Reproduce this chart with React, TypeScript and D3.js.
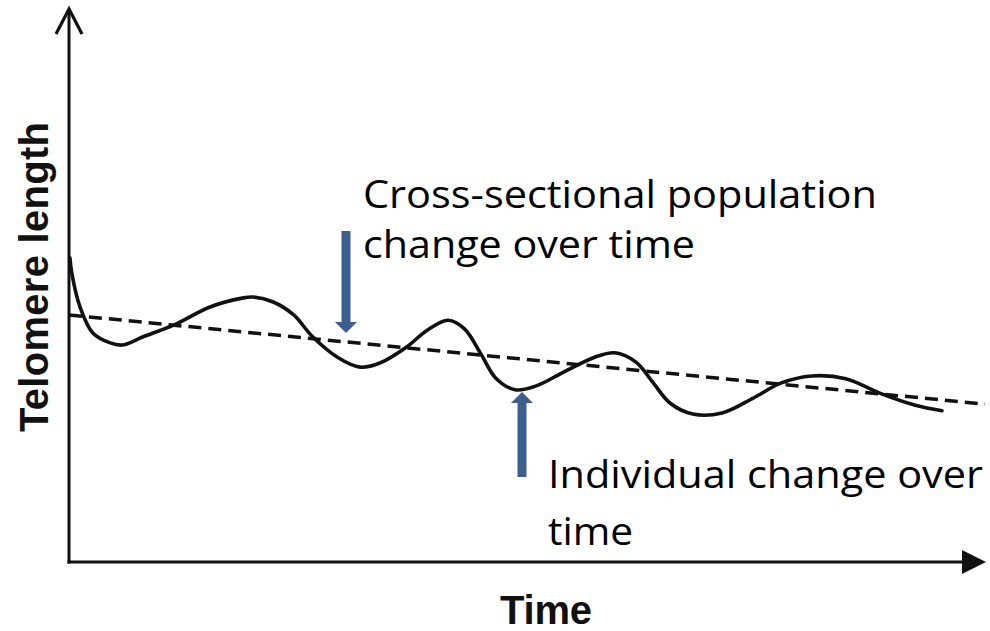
import React from "react";
import * as d3 from "d3";

// Individual telomere trajectory (time 0-100, length 0-100 arbitrary units)
const individualTime = [0.1, 0.3, 1.2, 2.6, 4.5, 5.8, 8.1, 11.4, 15.4, 18.9, 20.1, 22.3, 24.5, 26.6, 29.3, 31.8, 34.0, 36.9, 39.1, 41.4, 43.2, 45.0, 46.6, 48.7, 51.0, 54.0, 57.4, 59.6, 61.9, 63.8, 65.6, 68.1, 71.3, 74.7, 77.7, 81.1, 84.8, 88.5, 92.4, 95.3];
const individualLength = [55.1, 52.4, 46.2, 41.5, 39.7, 39.3, 40.8, 42.9, 46.2, 47.8, 48.0, 47.1, 44.8, 40.8, 37.1, 35.3, 36.1, 39.0, 42.0, 43.8, 42.2, 37.6, 33.3, 31.2, 31.9, 34.4, 37.1, 37.9, 36.2, 32.4, 28.8, 26.8, 27.0, 29.7, 32.4, 33.7, 33.2, 30.6, 28.4, 27.4];

// Cross-sectional population trend
const trendTime = [0, 100];
const trendLength = [44.75, 28.6];

const xLabel = "Time";
const yLabel = "Telomere length";
const populationLabel = ["Cross-sectional population", "change over time"];
const individualLabel = ["Individual change over", "time"];

const W = 990;
const H = 631;
const INK = "#111111";
const BLUE = "#3D5F8E";
const NOTE_FONT = "'Open Sans', 'Noto Sans', sans-serif";
const LABEL_FONT = "'Liberation Sans', Arial, sans-serif";

export default function App() {
  const x = d3.scaleLinear().domain([0, 100]).range([69, 985]);
  const y = d3.scaleLinear().domain([0, 100]).range([562, 10]);

  const indiv = individualTime.map((t, i) => [t, individualLength[i]] as [number, number]);
  const trend = trendTime.map((t, i) => [t, trendLength[i]] as [number, number]);

  const line = d3
    .line<[number, number]>()
    .x((d) => x(d[0]))
    .y((d) => y(d[1]))
    .curve(d3.curveCatmullRom.alpha(0.5));
  const straight = d3
    .line<[number, number]>()
    .x((d) => x(d[0]))
    .y((d) => y(d[1]));

  const x0 = x(0);
  const y0 = y(0);
  const xEnd = x(100);
  const yTop = y(100);

  // annotation arrows
  const downX = 346;
  const downTop = 231;
  const downTip = 333;
  const upX = 522;
  const upTip = 392;
  const upBottom = 477;
  const shaftW = 9;
  const headW = 22;
  const headH = 11;

  return (
    <svg
      width={W}
      height={H}
      viewBox={`0 0 ${W} ${H}`}
      style={{ position: "absolute", left: 0, top: 0, background: "#fff" }}
    >
      <rect width={W} height={H} fill="#fff" />

      {/* axes */}
      <line x1={x0} y1={y0 + 1.5} x2={x0} y2={yTop} stroke={INK} strokeWidth={3} />
      <polyline
        points={`${x0 - 13},${yTop + 24} ${x0},${yTop - 1} ${x0 + 13},${yTop + 24}`}
        fill="none"
        stroke={INK}
        strokeWidth={3.2}
        strokeLinejoin="miter"
      />
      <line x1={x0 - 1.5} y1={y0} x2={xEnd - 20} y2={y0} stroke={INK} strokeWidth={3} />
      <path
        d={`M${xEnd - 23},${y0 - 12} L${xEnd + 1},${y0} L${xEnd - 23},${y0 + 12} Z`}
        fill={INK}
      />

      {/* trend line */}
      <path
        d={straight(trend) || ""}
        fill="none"
        stroke={INK}
        strokeWidth={3.5}
        strokeDasharray="13 7"
      />

      {/* individual curve */}
      <path
        d={line(indiv) || ""}
        fill="none"
        stroke={INK}
        strokeWidth={3.6}
        strokeLinecap="round"
        strokeLinejoin="round"
      />

      {/* down arrow */}
      <rect x={downX - shaftW / 2} y={downTop} width={shaftW} height={downTip - headH - downTop} fill={BLUE} />
      <path
        d={`M${downX - headW / 2},${downTip - headH} L${downX + headW / 2},${downTip - headH} L${downX},${downTip} Z`}
        fill={BLUE}
      />

      {/* up arrow */}
      <rect x={upX - shaftW / 2} y={upTip + headH} width={shaftW} height={upBottom - upTip - headH} fill={BLUE} />
      <path
        d={`M${upX - headW / 2},${upTip + headH} L${upX + headW / 2},${upTip + headH} L${upX},${upTip} Z`}
        fill={BLUE}
      />

      {/* annotations */}
      <g fontFamily={NOTE_FONT} fontSize={38} fill="#000">
        <text x={363} y={208} textLength={514} lengthAdjust="spacingAndGlyphs">{populationLabel[0]}</text>
        <text x={363} y={258} textLength={332} lengthAdjust="spacingAndGlyphs">{populationLabel[1]}</text>
        <text x={548} y={488} textLength={435} lengthAdjust="spacingAndGlyphs">{individualLabel[0]}</text>
        <text x={548} y={545} textLength={85} lengthAdjust="spacingAndGlyphs">{individualLabel[1]}</text>
      </g>

      {/* axis labels */}
      <text
        x={500}
        y={624}
        fontFamily={LABEL_FONT}
        fontWeight="bold"
        fontSize={40}
        fill="#111"
        textLength={92}
      >
        {xLabel}
      </text>
      <text
        transform="translate(48,277) rotate(-90)"
        textAnchor="middle"
        fontFamily={LABEL_FONT}
        fontWeight="bold"
        fontSize={40}
        fill="#111"
        textLength={310}
      >
        {yLabel}
      </text>
    </svg>
  );
}
